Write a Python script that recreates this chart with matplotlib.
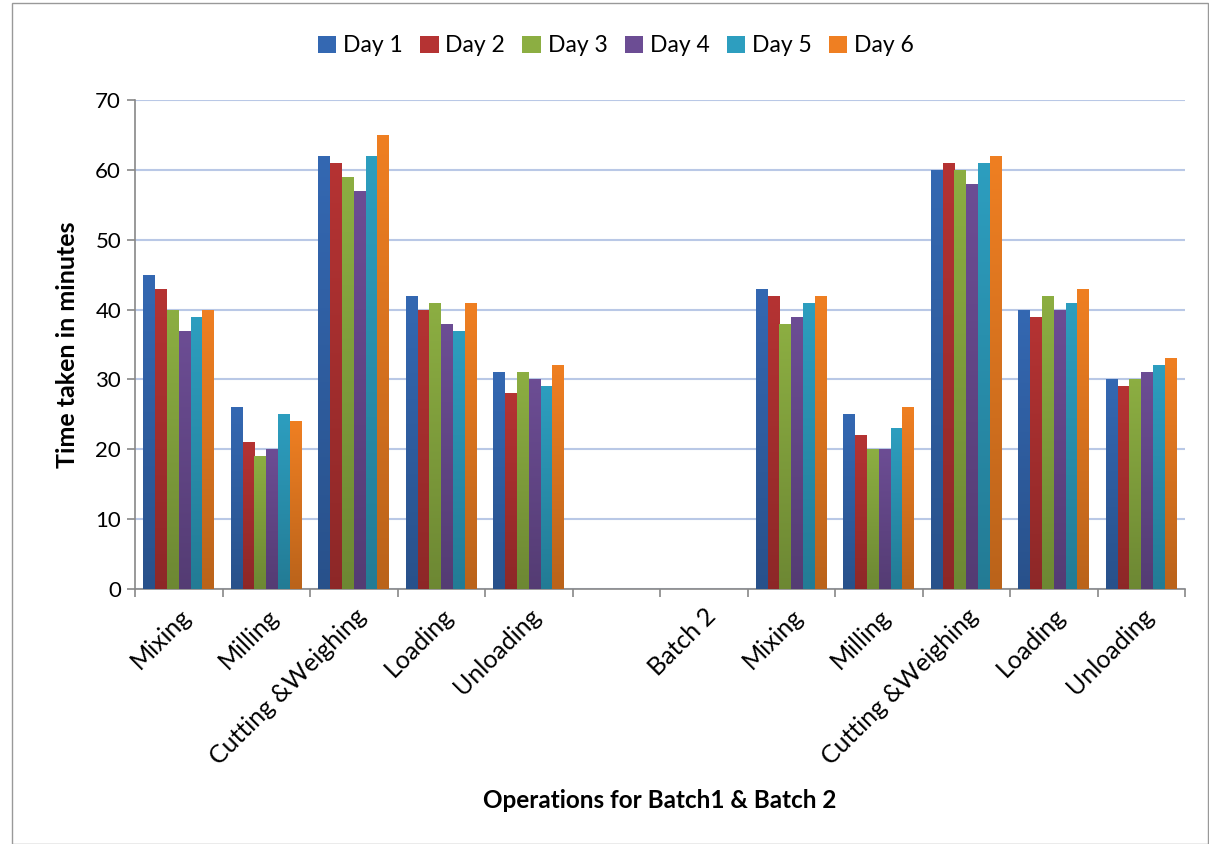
import matplotlib
matplotlib.use("Agg")
import matplotlib.pyplot as plt
import numpy as np
from matplotlib.patches import Rectangle
from matplotlib.colors import to_rgb

categories = ["Mixing", "Milling", "Cutting &Weighing", "Loading", "Unloading", "",
              "Batch 2", "Mixing", "Milling", "Cutting &Weighing", "Loading", "Unloading"]
series_names = ["Day 1", "Day 2", "Day 3", "Day 4", "Day 5", "Day 6"]
day1 = [45, 26, 62, 42, 31, np.nan, np.nan, 43, 25, 60, 40, 30]
day2 = [43, 21, 61, 40, 28, np.nan, np.nan, 42, 22, 61, 39, 29]
day3 = [40, 19, 59, 41, 31, np.nan, np.nan, 38, 20, 60, 42, 30]
day4 = [37, 20, 57, 38, 30, np.nan, np.nan, 39, 20, 58, 40, 31]
day5 = [39, 25, 62, 37, 29, np.nan, np.nan, 41, 23, 61, 41, 32]
day6 = [40, 24, 65, 41, 32, np.nan, np.nan, 42, 26, 62, 43, 33]
series = [day1, day2, day3, day4, day5, day6]
colors = ["#3468b2", "#b53333", "#8cae42", "#6c4d94", "#2d9ebf", "#ef7f22"]

plt.rcParams['font.family'] = ['Lato', 'DejaVu Sans']

fig = plt.figure(figsize=(12.09, 8.44), dpi=100)
ax = fig.add_axes([135/1209, 1-589/844, 1050/1209, 489/844])

n = len(categories)
x = np.arange(n)
bw = 0.135
for i, (vals, c) in enumerate(zip(series, colors)):
    offs = (i - 2.5) * bw
    bars = ax.bar(x + offs, vals, width=bw, color=c, label=series_names[i], zorder=3, linewidth=0)
    rgb = np.array(to_rgb(c))
    grad = np.linspace(0, 1, 64)[:, None, None]
    top = rgb
    bot = rgb * 0.78
    img = (bot * (1 - grad) + top * grad)  # row 0 = bottom
    for b in bars:
        h = b.get_height()
        if not np.isfinite(h) or h <= 0:
            continue
        x0 = b.get_x()
        im = ax.imshow(img, extent=(x0, x0 + b.get_width(), 0, h), origin='lower',
                       aspect='auto', zorder=3.5, interpolation='bilinear')
        im.set_clip_path(b)

ax.set_xlim(-0.5, n - 0.5)
ax.set_ylim(0, 70)
ax.set_yticks(np.arange(0, 71, 10))
ax.yaxis.grid(True, color="#b9c8e6", linewidth=1.5, zorder=0)
ax.set_axisbelow(True)

ax.set_xticks(x)
ax.set_xticklabels(categories, rotation=45, ha='right', va='top', rotation_mode='anchor', fontsize=18)
ax.set_xticks(np.arange(-0.5, n, 1), minor=True)
ax.tick_params(axis='x', which='major', length=0, pad=11)
ax.tick_params(axis='x', which='minor', length=6, color="#888888", width=1.2)
ax.tick_params(axis='y', length=6, color="#888888", width=1.2, labelsize=16, pad=4)

for s in ['top', 'right']:
    ax.spines[s].set_visible(False)
for s in ['left', 'bottom']:
    ax.spines[s].set_color("#888888")
    ax.spines[s].set_linewidth(1.2)

ax.set_ylabel("Time taken in minutes", fontsize=18, fontweight='bold', labelpad=12)
ax.set_xlabel("Operations for Batch1 & Batch 2", fontsize=17.5, fontweight='bold')
ax.xaxis.set_label_coords(660/1209, 1 - 800/844, transform=fig.transFigure)
ax.xaxis.label.set_va('center')

leg = fig.legend(loc='center', bbox_to_anchor=(616/1209, 1-46/844), ncol=6, frameon=False,
                 fontsize=16.5, handlelength=0.8, handleheight=0.8, handletextpad=0.3, columnspacing=0.75)

fig.patches.append(Rectangle((12/1209, 0), 1 - 13/1209, 1 - 3/844, transform=fig.transFigure,
                             fill=False, edgecolor="#999999", linewidth=1))

fig.savefig("out.png", dpi=100)
